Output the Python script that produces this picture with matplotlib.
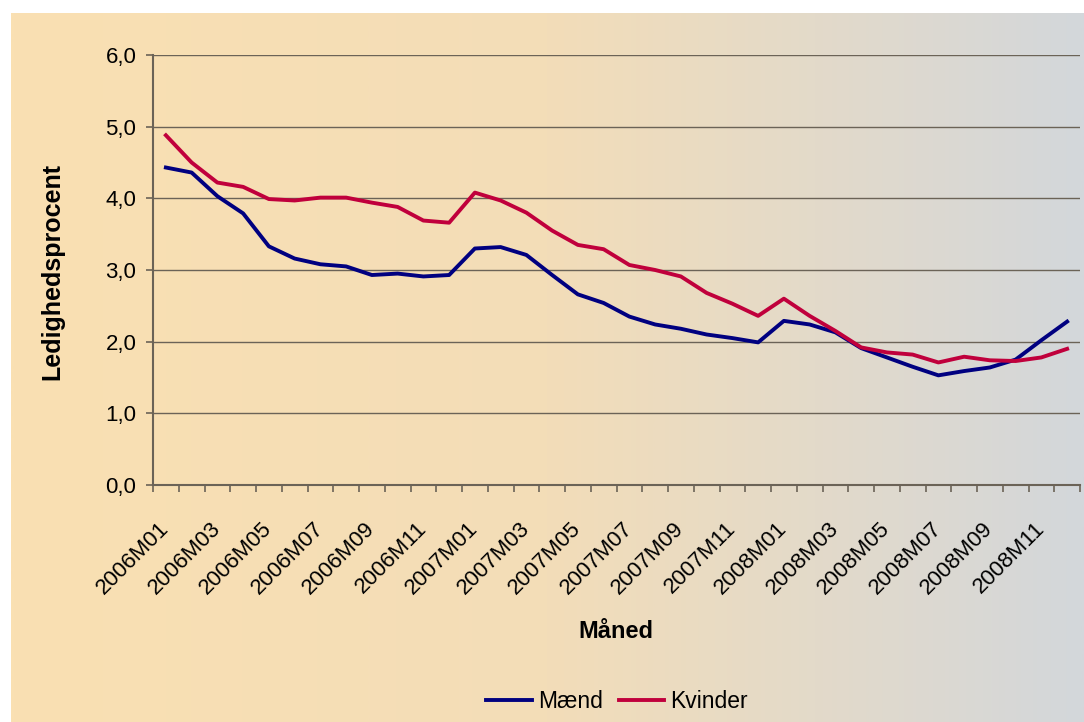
import numpy as np
import matplotlib
matplotlib.use("Agg")
import matplotlib.pyplot as plt
from matplotlib.colors import LinearSegmentedColormap

plt.rcParams['font.family'] = ['Liberation Sans', 'DejaVu Sans']

# data (ledighedsprocent per month)
months = [f"{y}M{m:02d}" for y in (2006, 2007, 2008) for m in range(1, 13)]
maend = [4.43, 4.36, 4.03, 3.79, 3.33, 3.16, 3.08, 3.05, 2.93, 2.95, 2.91, 2.93,
         3.30, 3.32, 3.21, 2.93, 2.66, 2.54, 2.35, 2.24, 2.18, 2.10, 2.05, 1.99,
         2.29, 2.24, 2.13, 1.91, 1.78, 1.65, 1.53, 1.59, 1.64, 1.75, 2.02, 2.28]
kvinder = [4.88, 4.50, 4.22, 4.16, 3.99, 3.97, 4.01, 4.01, 3.94, 3.88, 3.69, 3.66,
           4.08, 3.97, 3.80, 3.55, 3.35, 3.29, 3.07, 3.00, 2.91, 2.68, 2.53, 2.36,
           2.60, 2.36, 2.15, 1.92, 1.85, 1.82, 1.71, 1.79, 1.74, 1.73, 1.78, 1.90]
yticks = [0, 1, 2, 3, 4, 5, 6]

W, H = 1084, 722
fig = plt.figure(figsize=(W / 100, H / 100), dpi=100)
fig.patch.set_facecolor('white')

# gradient background of the chart area
bg = fig.add_axes([11 / W, 0, 1 - 11 / W, 1 - 13 / H], zorder=0)
cmap = LinearSegmentedColormap.from_list('bg', ['#FAE0B2', '#F3DDB8', '#D3D7DB'])
bg.imshow(np.linspace(0, 1, 512).reshape(1, -1), cmap=cmap, aspect='auto',
          extent=[0, 1, 0, 1])
bg.axis('off')

ax = fig.add_axes([153 / W, 1 - 485 / H, (1080 - 153) / W, (485 - 55) / H], zorder=1)
ax.patch.set_alpha(0)

x = np.arange(len(months))
l1, = ax.plot(x, maend, color='#000080', lw=2.8, solid_joinstyle='round', label='Mænd')
l2, = ax.plot(x, kvinder, color='#C0003C', lw=2.8, solid_joinstyle='round', label='Kvinder')

axcol = '#6B6357'
ax.set_ylim(0, 6)
ax.set_yticks(yticks)
ax.set_yticklabels([f"{v:.1f}".replace('.', ',') for v in yticks], fontsize=16)
ax.yaxis.grid(True, color=axcol, lw=1)
ax.set_axisbelow(True)

ax.set_xlim(-0.5, len(months) - 0.5)
ax.set_xticks(np.arange(-0.5, len(months), 1))
ax.set_xticklabels([])
ax.set_xticks(x[::2], minor=True)
ax.set_xticklabels(months[::2], minor=True, rotation=45, ha='right', va='center',
                   rotation_mode='anchor', fontsize=16)
ax.tick_params(axis='x', which='major', length=5, color=axcol, width=1.2)
ax.tick_params(axis='x', which='minor', length=0, pad=29)
ax.tick_params(axis='y', length=5, color=axcol, width=1.2, pad=7)

for s in ['top', 'right']:
    ax.spines[s].set_visible(False)
for s in ['left', 'bottom']:
    ax.spines[s].set_color(axcol)
    ax.spines[s].set_linewidth(1.5)

fig.text(52 / W, 1 - 271 / H, 'Ledighedsprocent', rotation=90, ha='center', va='center',
         fontsize=18, fontweight='bold')
fig.text(616 / W, 1 - 632 / H, 'Måned', ha='center', va='center',
         fontsize=17, fontweight='bold')

fig.legend(handles=[l1, l2], loc='center', bbox_to_anchor=(617 / W, 1 - 702 / H),
           ncol=2, frameon=False, fontsize=16.5, handlelength=2.0, handletextpad=0.25,
           columnspacing=0.7)

fig.savefig('out.png', dpi=100)
